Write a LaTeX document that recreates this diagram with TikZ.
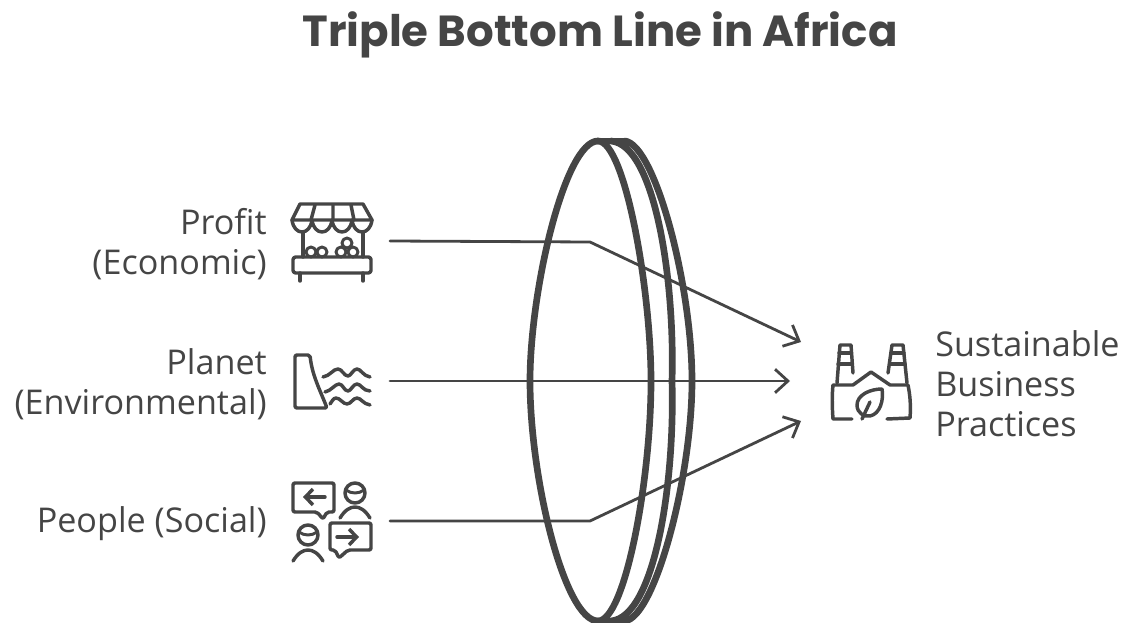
\documentclass[tikz,border=0pt]{standalone}
\usepackage{fontspec}
\setmainfont{Open Sans}
\newfontfamily\titlefont{Poppins}
\usetikzlibrary{positioning,arrows.meta}
\definecolor{ink}{HTML}{454545}

\begin{document}
\begin{tikzpicture}[x=0.75pt,y=-0.75pt,color=ink,line cap=round,line join=round,
  lab/.style={font=\fontsize{25.6}{30}\selectfont, text=ink, inner sep=0pt},
  ic/.style={line width=2.6pt},
  thin ic/.style={line width=2.2pt},
  lens/.style={line width=5pt},
  e/.style={line width=2.1pt, -{Straight Barb[length=3.4mm,width=6.2mm,line width=2.1pt]}}]
\useasboundingbox (0,0) rectangle (1124,623);
\node[lab, font=\titlefont\bfseries\fontsize{32.6}{38}\selectfont] (title) at (600,35) {Triple Bottom Line in Africa};
% labels
\node[lab, align=right, anchor=east] (profit) at (267,244) {Profit\\(Economic)};
\node[lab, align=right, anchor=east] (planet) at (267,384) {Planet\\(Environmental)};
\node[lab, anchor=east] (people) at (267,524) {People (Social)};
\node[lab, align=left, anchor=west] (goal) at (935,384) {Sustainable\\Business\\Practices};
% lens
\begin{scope}
\clip (500,130) rectangle (720,623);
\draw[lens] (598,141) .. controls (565,141) and (530,290) .. (530,381) .. controls (530,480) and (565,621) .. (598,621);
\draw[lens] (598,141) .. controls (625,141) and (651,290) .. (651,381) .. controls (651,480) and (625,621) .. (598,621);
\draw[lens] (611,141) .. controls (655,145) and (675,280) .. (672,381) .. controls (675,482) and (655,617) .. (611,621);
\draw[lens] (625,141) .. controls (655,145) and (692,285) .. (692,381) .. controls (692,477) and (655,617) .. (625,621);
\draw[lens] (598,141) -- (625,141); \draw[lens] (598,621) -- (625,621);
\end{scope}
% connectors
\coordinate (a0) at (390,241); \coordinate (a1) at (590,242); \coordinate (a2) at (801,342);
\coordinate (b0) at (390,381); \coordinate (b2) at (790,381);
\coordinate (c0) at (390,521); \coordinate (c1) at (590,521); \coordinate (c2) at (801,421);
\draw[e] (a0)--(a1)--(a2);
\draw[e] (b0)--(b2);
\draw[e] (c0)--(c1)--(c2);
% market stall
\draw[ic] (300,204) -- (363,204) -- (372,220) -- (292,220) -- cycle;
\draw[ic] (292,220) .. controls (294,236) and (310,236) .. (312,220) .. controls (314,236) and (330,236) .. (332,220) .. controls (334,236) and (350,236) .. (352,220) .. controls (354,236) and (370,236) .. (372,220);
\draw[ic] (315,205)--(311,220) (333,205)--(333,220) (351,205)--(354,220);
\draw[ic] (303,232)--(303,257) (363,232)--(363,257);
\draw[ic, rounded corners=2pt] (293,257) rectangle (371,273);
\draw[ic] (300,273)--(300,281) (363,273)--(363,281);
\draw[thin ic] (311,252) circle (5) (322,252) circle (5) (341,252) circle (5) (353,252) circle (5) (347,243) circle (5);
% dam
\draw[ic, rounded corners=1.5pt] (295,355) -- (310,355) .. controls (312,375) and (320,390) .. (327,408) -- (295,408) -- cycle;
\draw[ic] (323,377) .. controls (330,376) and (333,369) .. (338,369) .. controls (342,369) and (344,376) .. (348,376) .. controls (351,376) and (353,369) .. (357,369) .. controls (361,369) and (363,376) .. (370,377);
\draw[ic] (325,392) .. controls (331,391) and (335,384) .. (339,384) .. controls (343,384) and (344,391) .. (348,391) .. controls (351,391) and (353,384) .. (357,384) .. controls (361,384) and (363,391) .. (370,391);
\draw[ic] (330,404) .. controls (332,402) and (333,398) .. (336,398) .. controls (340,398) and (343,404) .. (347,404) .. controls (351,404) and (353,398) .. (357,398) .. controls (361,398) and (363,404) .. (370,405);
% people talking
\draw[ic, rounded corners=1.5pt] (293,483) -- (334,483) -- (334,512) -- (327,512) -- (323,519) -- (317,512) -- (293,512) -- cycle;
\draw[ic, -{Straight Barb[length=2mm,width=4.2mm,line width=2.6pt]}] (325,497) -- (303,497);
\draw[ic] (355,493) circle (10);
\draw[thin ic] (346,490) .. controls (351,494) and (359,494) .. (364,490);
\draw[ic] (340,518) .. controls (345,510) and (350,507) .. (355,507) .. controls (360,507) and (365,510) .. (370,518);
\draw[ic] (308,535) circle (10);
\draw[thin ic] (299,532) .. controls (304,536) and (312,536) .. (317,532);
\draw[ic] (293,561) .. controls (298,553) and (303,550) .. (308,550) .. controls (313,550) and (318,553) .. (323,561);
\draw[ic, rounded corners=1.5pt] (330,523) -- (371,523) -- (371,550) -- (348,550) -- (339,558) -- (335,550) -- (330,550) -- cycle;
\draw[ic, -{Straight Barb[length=2mm,width=4.2mm,line width=2.6pt]}] (337,537) -- (359,537);
% factory
\draw[ic] (837,383) -- (840,345) -- (851,345) -- (853,373);
\draw[ic] (839,353)--(851,353) (838,364)--(852,364);
\draw[ic] (888,373) -- (892,345) -- (903,345) -- (907,383);
\draw[ic] (891,353)--(904,353) (890,364)--(905,364);
\draw[ic] (852,419) -- (833,419) .. controls (832,405) and (832,395) .. (833,385) -- (853,385) -- (871,372) -- (890,385) -- (908,385) .. controls (910,395) and (911,405) .. (910,418) -- (887,419);
\draw[ic] (882,389) .. controls (870,389) and (857,395) .. (857,405) .. controls (857,413) and (864,417) .. (870,416) .. controls (880,414) and (884,400) .. (882,389) -- cycle;
\draw[ic] (862,419) -- (870,402);
\end{tikzpicture}
\end{document}
